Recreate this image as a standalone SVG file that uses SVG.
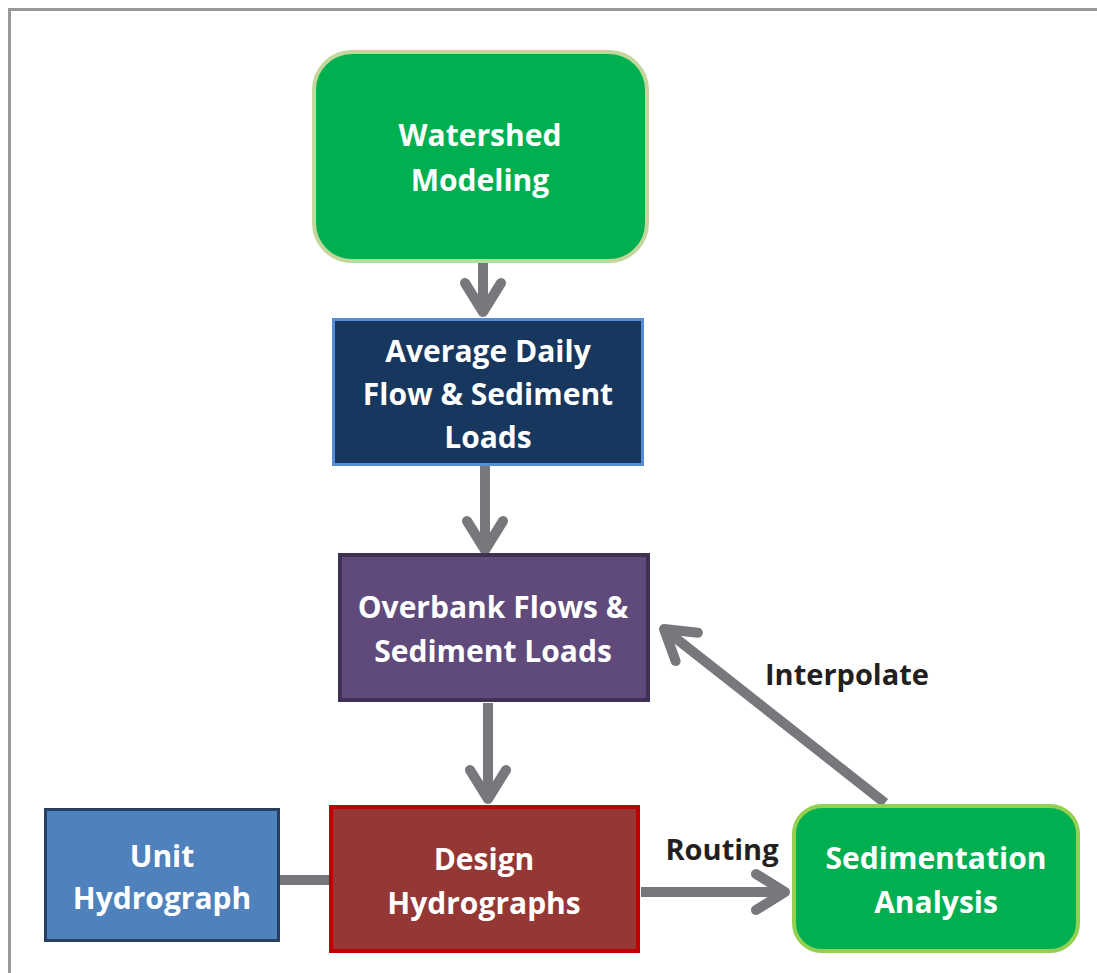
<svg xmlns="http://www.w3.org/2000/svg" width="1097" height="973" viewBox="0 0 1097 973">
<style>
.lbl{font-family:"Open Sans","Liberation Sans",sans-serif;font-weight:bold;font-size:30px;fill:#FFFFFF;text-anchor:middle}
.edge{font-family:"Open Sans","Liberation Sans",sans-serif;font-weight:bold;font-size:29px;fill:#231F20;text-anchor:middle}
.conn{stroke:#77787B;stroke-width:10;fill:none;stroke-linecap:butt}
</style>
<defs>
<marker id="chev" markerUnits="userSpaceOnUse" viewBox="-40 -30 50 60" markerWidth="50" markerHeight="60" refX="0" refY="0" orient="auto" overflow="visible">
<path d="M -29,-18 L 0,0 L -29,18" fill="none" stroke="#77787B" stroke-width="10" stroke-linecap="round" stroke-linejoin="round"/>
</marker>
</defs>
<rect x="0" y="0" width="1097" height="973" fill="#FFFFFF"/>
<rect x="9.5" y="9.5" width="1100" height="990" fill="none" stroke="#999999" stroke-width="3"/>
<g id="connectors">
<line class="conn" x1="483" y1="262" x2="483" y2="312" marker-end="url(#chev)"/>
<line class="conn" x1="485" y1="466" x2="485" y2="550" marker-end="url(#chev)"/>
<line class="conn" x1="488" y1="703" x2="488" y2="799" marker-end="url(#chev)"/>
<line class="conn" x1="280" y1="880" x2="329" y2="880"/>
<line class="conn" x1="641" y1="892" x2="785" y2="892" marker-end="url(#chev)"/>
<line class="conn" x1="885" y1="803" x2="664" y2="629" marker-end="url(#chev)"/>
<text class="edge" x="722" y="860">Routing</text>
<text class="edge" x="847" y="685">Interpolate</text>
</g>
<g id="watershed">
<rect x="314" y="52" width="333" height="209" rx="38" fill="#00AF50" stroke="#C3D69B" stroke-width="4"/>
<text class="lbl" x="480" y="146">Watershed</text>
<text class="lbl" x="480" y="191">Modeling</text>
</g>
<g id="average">
<rect x="333.5" y="319.5" width="309" height="145" fill="#18375E" stroke="#558ED5" stroke-width="3"/>
<text class="lbl" x="488" y="362">Average Daily</text>
<text class="lbl" x="488" y="405">Flow &amp; Sediment</text>
<text class="lbl" x="488" y="448">Loads</text>
</g>
<g id="overbank">
<rect x="340" y="555" width="308" height="145" fill="#604A7B" stroke="#3F3151" stroke-width="4"/>
<text class="lbl" x="493" y="618">Overbank Flows &amp;</text>
<text class="lbl" x="493" y="662">Sediment Loads</text>
</g>
<g id="unit">
<rect x="45.5" y="809.5" width="233" height="131" fill="#4F81BD" stroke="#254061" stroke-width="3"/>
<text class="lbl" x="162" y="867">Unit</text>
<text class="lbl" x="162" y="909">Hydrograph</text>
</g>
<g id="design">
<rect x="331" y="807" width="307" height="144" fill="#953735" stroke="#C00000" stroke-width="4"/>
<text class="lbl" x="484" y="870">Design</text>
<text class="lbl" x="484" y="914">Hydrographs</text>
</g>
<g id="sedimentation">
<rect x="794" y="806" width="284" height="145" rx="28" fill="#00B050" stroke="#92D050" stroke-width="4"/>
<text class="lbl" x="936" y="869">Sedimentation</text>
<text class="lbl" x="936" y="913">Analysis</text>
</g>
</svg>
